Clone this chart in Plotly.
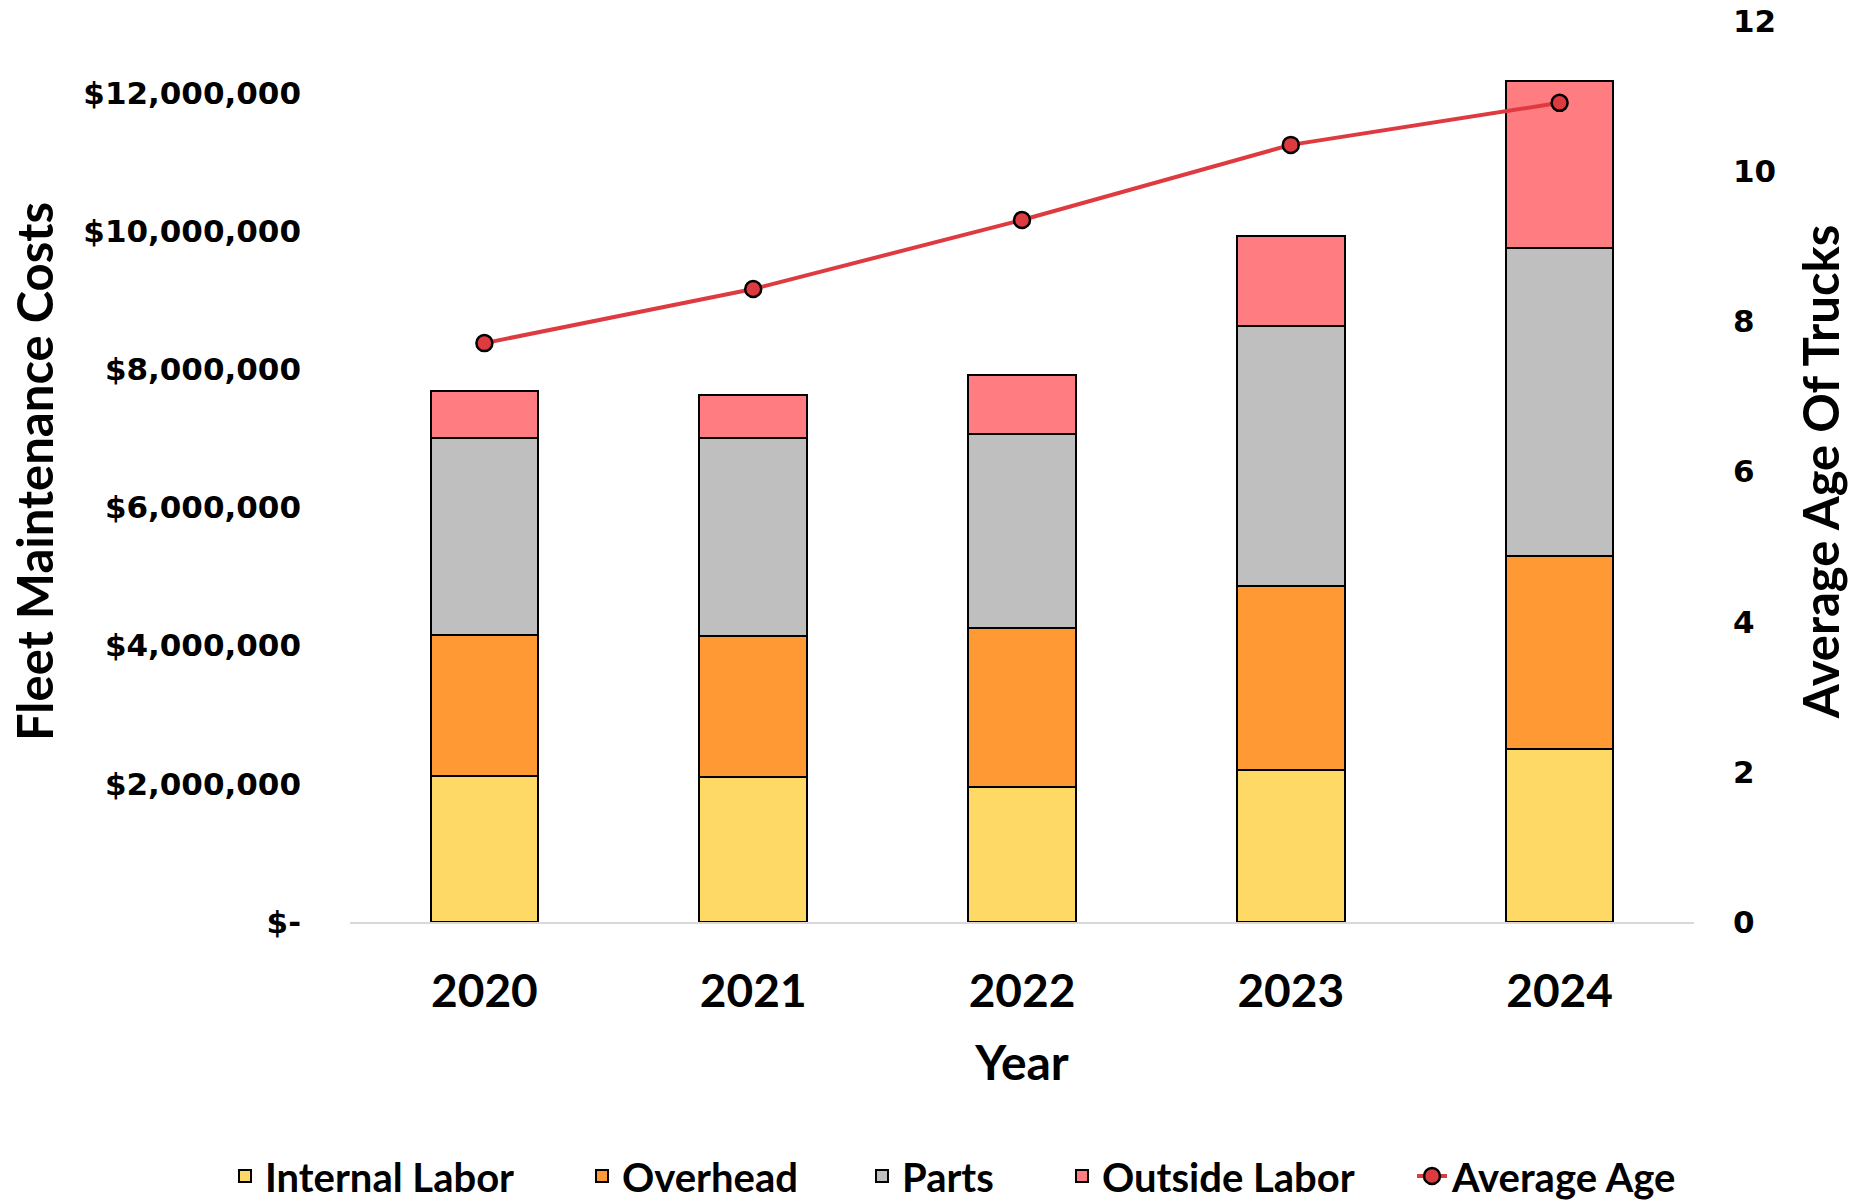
import plotly.graph_objects as go

years = ["2020", "2021", "2022", "2023", "2024"]
internal_labor = [2110000, 2100000, 1950000, 2200000, 2500000]
overhead = [2050000, 2045000, 2310000, 2660000, 2800000]
parts = [2840000, 2865000, 2810000, 3770000, 4460000]
outside_labor = [680000, 620000, 840000, 1300000, 2410000]
average_age = [7.71, 8.43, 9.35, 10.35, 10.91]

cost_tickvals = [0, 2000000, 4000000, 6000000, 8000000, 10000000, 12000000]
cost_ticktext = ["$-", "$2,000,000", "$4,000,000", "$6,000,000", "$8,000,000",
                 "$10,000,000", "$12,000,000"]
age_tickvals = [0, 2, 4, 6, 8, 10, 12]

W, H = 1851, 1202
TICK_FONT = dict(family="Verdana, DejaVu Sans, sans-serif", size=31, color="black", weight="bold")
NARROW = "Lato, Open Sans, sans-serif"
LEGEND_FONT = dict(family=NARROW, size=40, color="black", weight="bold")

fig = go.Figure()
series = [
    ("Internal Labor", internal_labor, "#FFD966", "legend"),
    ("Overhead", overhead, "#FF9933", "legend2"),
    ("Parts", parts, "#BFBFBF", "legend3"),
    ("Outside Labor", outside_labor, "#FF7C80", "legend4"),
]
for name, vals, color, lg in series:
    fig.add_trace(go.Bar(
        x=years, y=vals, name=name, legend=lg,
        marker=dict(color=color, line=dict(color="black", width=2)),
        yaxis="y",
    ))

fig.add_trace(go.Scatter(
    x=years, y=average_age, name="Average Age", mode="lines+markers", legend="legend5",
    line=dict(color="#DE3B40", width=4),
    marker=dict(color="#DE3B40", size=16, line=dict(color="black", width=2.5)),
    yaxis="y2",
))

# legend text left edges (page pixels)
legend_text_left = [267, 624, 904, 1104, 1454]
T = 42
legends = {}
for i, tl in enumerate(legend_text_left):
    key = "legend" if i == 0 else f"legend{i + 1}"
    legends[key] = dict(
        orientation="h", xref="container", x=(tl - T) / W, xanchor="left",
        yref="container", y=1 - 1176 / H, yanchor="middle",
        font=LEGEND_FONT, itemwidth=30, bgcolor="rgba(0,0,0,0)",
    )

fig.update_layout(
    width=W, height=H,
    margin=dict(l=350, r=157, t=21, b=280, autoexpand=False),
    barmode="stack", bargap=0.6,
    plot_bgcolor="white", paper_bgcolor="white",
    showlegend=True,
    **legends,
    xaxis=dict(
        tickfont=dict(family=NARROW, size=46, color="black", weight="bold"),
        showline=True, linecolor="#D9D9D9", linewidth=2,
        ticks="", showgrid=False, ticklabelstandoff=28,
        title=dict(text="Year", font=dict(family=NARROW, size=48, color="black", weight="bold"),
                   standoff=30),
    ),
    yaxis=dict(
        range=[0, 13040000], tickvals=cost_tickvals, ticktext=cost_ticktext,
        tickfont=TICK_FONT, showgrid=False, zeroline=False, showline=False,
        ticks="", ticklabelstandoff=48, ticklabeloverflow="allow",
        title=dict(text="Fleet Maintenance Costs",
                   font=dict(family=NARROW, size=49, color="black", weight="bold"),
                   standoff=14),
    ),
    yaxis2=dict(
        range=[0, 12], tickvals=age_tickvals, overlaying="y", side="right",
        tickfont=TICK_FONT, showgrid=False, zeroline=False, showline=False,
        ticks="", ticklabelstandoff=38, ticklabeloverflow="allow",
        title=dict(text="Average Age Of Trucks",
                   font=dict(family=NARROW, size=49, color="black", weight="bold"),
                   standoff=29),
    ),
)

fig.write_html("out.html", config={"displayModeBar": False},
               post_script="document.body.style.margin='0';")
